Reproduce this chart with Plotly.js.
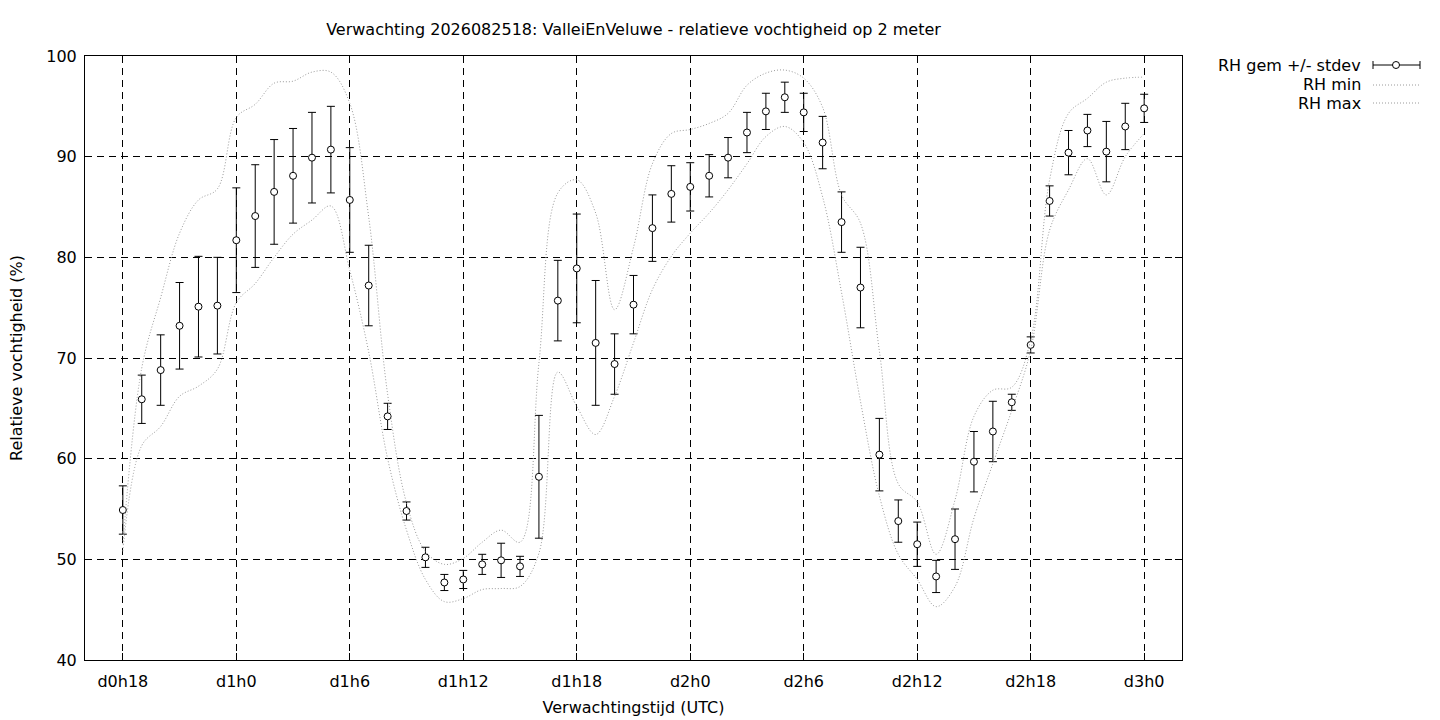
<!DOCTYPE html>
<html>
<head>
<meta charset="utf-8">
<script src="https://cdn.plot.ly/plotly-3.0.1.min.js"></script>
<style>
html, body { margin: 0; padding: 0; background: #fff; }
#plot { width: 1440px; height: 720px; }
</style>
</head>
<body>
<div id="plot"></div>
<script>
// uren sinds d0h0
var hours = [18, 19, 20, 21, 22, 23, 24, 25, 26, 27, 28, 29, 30, 31, 32, 33, 34, 35, 36,
             37, 38, 39, 40, 41, 42, 43, 44, 45, 46, 47, 48, 49, 50, 51, 52, 53, 54, 55,
             56, 57, 58, 59, 60, 61, 62, 63, 64, 65, 66, 67, 68, 69, 70, 71, 72];

var rhMean = [54.9, 65.9, 68.8, 73.2, 75.1, 75.2, 81.7, 84.1, 86.5, 88.1, 89.9, 90.7, 85.7,
              77.2, 64.2, 54.8, 50.2, 47.7, 48.0, 49.5, 49.9, 49.3, 58.2, 75.7, 78.9, 71.5,
              69.4, 75.3, 82.9, 86.3, 87.0, 88.1, 89.9, 92.4, 94.5, 95.9, 94.4, 91.4, 83.5,
              77.0, 60.4, 53.8, 51.5, 48.3, 52.0, 59.7, 62.7, 65.6, 71.3, 85.6, 90.4, 92.6,
              90.5, 93.0, 94.8];

var rhStdev = [2.4, 2.4, 3.5, 4.3, 5.0, 4.8, 5.2, 5.1, 5.2, 4.7, 4.5, 4.3, 5.2,
               4.0, 1.3, 0.9, 1.0, 0.8, 0.9, 1.0, 1.7, 1.0, 6.1, 4.0, 5.4, 6.2,
               3.0, 2.9, 3.3, 2.8, 2.4, 2.1, 2.0, 2.0, 1.8, 1.5, 1.9, 2.6, 3.0,
               4.0, 3.6, 2.1, 2.2, 1.6, 3.0, 3.0, 3.0, 0.8, 0.8, 1.5, 2.2, 1.6,
               3.0, 2.3, 1.4];

var rhMin = [50.8, 61.3, 63.2, 66.2, 67.2, 68.9, 75.5, 77.4, 80.0, 82.3, 83.7, 85.1, 78.7,
             70.6, 60.0, 52.9, 48.0, 45.8, 46.1, 47.0, 47.1, 47.3, 50.6, 68.6, 65.2, 62.4,
             66.2, 71.5, 76.8, 80.1, 82.4, 84.4, 86.7, 89.3, 92.0, 93.0, 91.4, 86.0, 76.5,
             65.7, 56.3, 50.5, 48.0, 45.3, 47.3, 54.1, 59.5, 64.8, 70.8, 82.7, 86.7, 89.8,
             86.2, 90.0, 92.3];

var rhMax = [51.5, 69.0, 76.0, 82.4, 85.7, 86.8, 93.9, 95.2, 97.3, 97.5, 98.4, 98.4, 95.3,
             84.0, 66.4, 55.6, 50.8, 49.5, 50.1, 51.7, 52.9, 51.7, 69.5, 86.4, 87.7, 84.4,
             74.8, 81.0, 89.3, 92.3, 92.7, 93.3, 94.3, 97.1, 98.3, 98.6, 97.8, 94.9, 86.2,
             83.4, 70.7, 57.5, 55.7, 50.5, 55.9, 64.2, 66.8, 67.1, 71.8, 87.7, 94.3, 95.8,
             97.4, 97.8, 97.9];

var tickHours = [18, 24, 30, 36, 42, 48, 54, 60, 66, 72];
var tickLabels = ['d0h18', 'd1h0', 'd1h6', 'd1h12', 'd1h18', 'd2h0', 'd2h6', 'd2h12', 'd2h18', 'd3h0'];

var font = 'DejaVu Sans, sans-serif';
var dotColor = '#9a9a9a';
var dotDash = '1px,2px';

var trace_mean = {
    x: hours,
    y: rhMean,
    mode: 'markers',
    name: 'RH gem +/- stdev',
    type: 'scatter',
    marker: {symbol: 'circle', size: 7, color: '#fff', line: {color: '#000', width: 1}},
    error_y: {type: 'data', array: rhStdev, visible: true, color: '#000', thickness: 1, width: 4}
};
var trace_min = {
    x: hours,
    y: rhMin,
    mode: 'lines',
    name: 'RH min',
    line: {shape: 'spline', color: dotColor, width: 1, dash: dotDash},
    type: 'scatter'
};
var trace_max = {
    x: hours,
    y: rhMax,
    mode: 'lines',
    name: 'RH max',
    line: {shape: 'spline', color: dotColor, width: 1, dash: dotDash},
    type: 'scatter'
};
var data = [trace_mean, trace_min, trace_max];

// plot area in pixels: x 85..1182, y 56..660
function px(X) { return (X - 85) / 1097; }
function py(Y) { return (660 - Y) / 604; }

var shapes = [
    // legend sample: errorbar
    {type: 'line', xref: 'paper', yref: 'paper', x0: px(1373), x1: px(1420), y0: py(65), y1: py(65), line: {color: '#000', width: 1}},
    {type: 'line', xref: 'paper', yref: 'paper', x0: px(1373), x1: px(1373), y0: py(61), y1: py(69), line: {color: '#000', width: 1}},
    {type: 'line', xref: 'paper', yref: 'paper', x0: px(1420), x1: px(1420), y0: py(61), y1: py(69), line: {color: '#000', width: 1}},
    {type: 'circle', xref: 'paper', yref: 'paper', x0: px(1392.5), x1: px(1399.5), y0: py(68.5), y1: py(61.5), fillcolor: '#fff', line: {color: '#000', width: 1}},
    // legend samples: dotted
    {type: 'line', xref: 'paper', yref: 'paper', x0: px(1373), x1: px(1420), y0: py(85), y1: py(85), line: {color: dotColor, width: 1, dash: dotDash}},
    {type: 'line', xref: 'paper', yref: 'paper', x0: px(1373), x1: px(1420), y0: py(103), y1: py(103), line: {color: dotColor, width: 1, dash: dotDash}}
];

var annotations = [
    {text: 'RH gem +/- stdev', xref: 'paper', yref: 'paper', x: px(1363), y: py(66), xanchor: 'right', yanchor: 'middle', showarrow: false},
    {text: 'RH min', xref: 'paper', yref: 'paper', x: px(1363), y: py(85), xanchor: 'right', yanchor: 'middle', showarrow: false},
    {text: 'RH max', xref: 'paper', yref: 'paper', x: px(1363), y: py(103), xanchor: 'right', yanchor: 'middle', showarrow: false}
];

var layout = {
    width: 1440,
    height: 720,
    margin: {l: 85, r: 258, t: 56, b: 60},
    paper_bgcolor: '#fff',
    plot_bgcolor: '#fff',
    font: {family: font, size: 16, color: '#000'},
    showlegend: false,
    title: {
        text: 'Verwachting 2026082518: ValleiEnVeluwe - relatieve vochtigheid op 2 meter',
        font: {family: font, size: 16, color: '#000'},
        xref: 'paper', x: 0.5, xanchor: 'center',
        yref: 'container', y: 1 - 29 / 720, yanchor: 'middle'
    },
    xaxis: {
        range: [16, 74],
        tickmode: 'array',
        tickvals: tickHours,
        ticktext: tickLabels,
        showgrid: true, gridcolor: '#000', gridwidth: 1, griddash: '7px,5px',
        zeroline: false,
        showline: true, linecolor: '#000', linewidth: 1, mirror: 'ticks',
        ticks: 'inside', ticklen: 7, tickcolor: '#000', tickwidth: 1,
        ticklabelstandoff: 7,
        title: {text: 'Verwachtingstijd (UTC)', font: {size: 16}, standoff: 11}
    },
    yaxis: {
        range: [40, 100],
        dtick: 10,
        showgrid: true, gridcolor: '#000', gridwidth: 1, griddash: '7px,5px',
        zeroline: false,
        showline: true, linecolor: '#000', linewidth: 1, mirror: 'ticks',
        ticks: 'inside', ticklen: 7, tickcolor: '#000', tickwidth: 1,
        ticklabelstandoff: 4,
        title: {text: 'Relatieve vochtigheid (%)', font: {size: 16}, standoff: 19}
    },
    shapes: shapes,
    annotations: annotations
};

Plotly.newPlot('plot', data, layout, {displayModeBar: false, staticPlot: true});
</script>
</body>
</html>
